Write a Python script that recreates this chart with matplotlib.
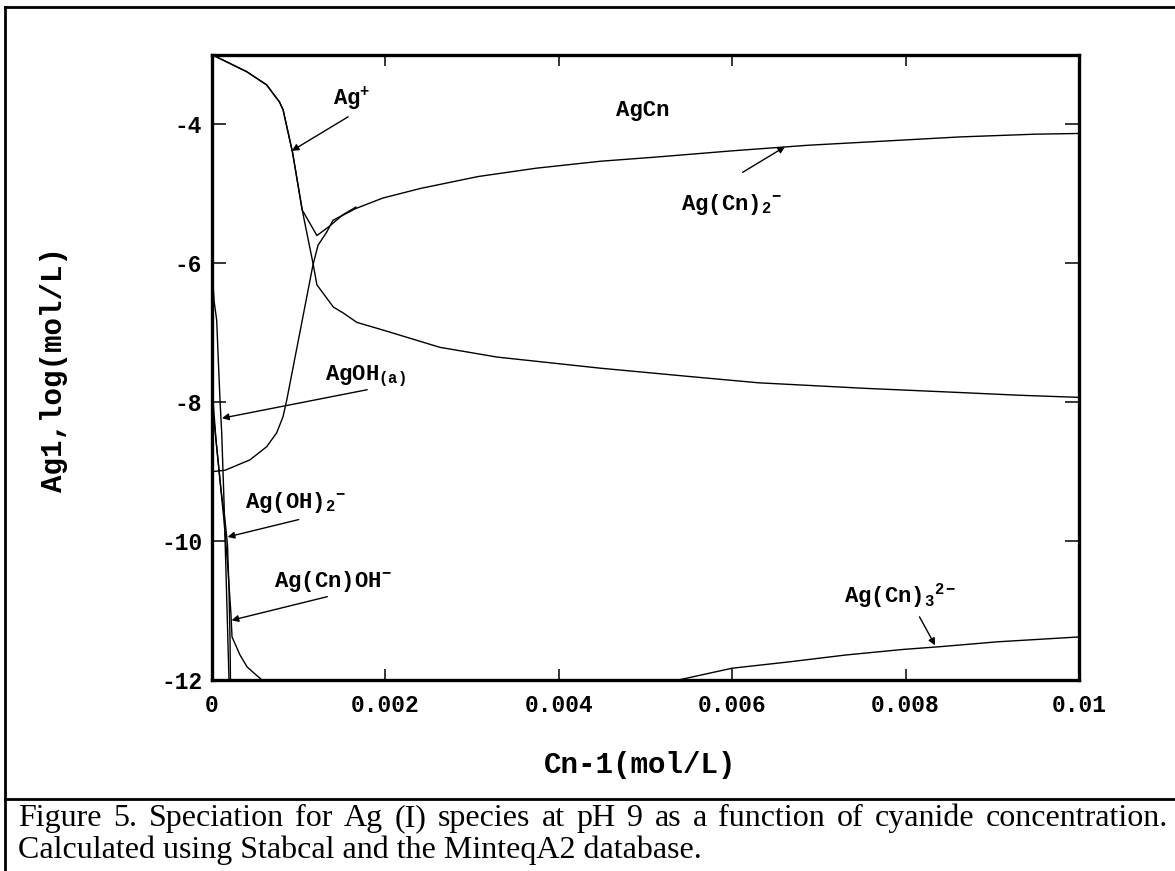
import matplotlib
matplotlib.use("Agg")
import matplotlib.pyplot as plt
from matplotlib.lines import Line2D

# =========================
# DATA (Cn in mol/L, log concentration)
# =========================

ag_plus_x = [0, 0.00004, 0.0004, 0.00063, 0.00078, 0.00082, 0.00093, 0.00104, 0.001165, 0.00121,
             0.0014, 0.00152, 0.00167, 0.00197, 0.00263, 0.00329, 0.00448, 0.00551, 0.0063,
             0.00753, 0.00862, 0.00932, 0.01]
ag_plus_y = [-3.0, -3.02, -3.24, -3.43, -3.68, -3.79, -4.41, -5.23, -6.0, -6.31,
             -6.63, -6.72, -6.85, -6.96, -7.21, -7.35, -7.51, -7.63, -7.72,
             -7.80, -7.86, -7.90, -7.93]

ag_cn2_x = [0, 0.00015, 0.000246, 0.000438, 0.000631, 0.000746, 0.000819, 0.000862, 0.001165,
            0.001223, 0.001323, 0.001396, 0.00166, 0.00197, 0.00241, 0.00307, 0.00374, 0.00448,
            0.00512, 0.006, 0.00687, 0.00775, 0.00862, 0.0095, 0.01]
ag_cn2_y = [-9.0, -8.98, -8.93, -8.83, -8.64, -8.44, -8.21, -7.97, -6.02,
            -5.74, -5.55, -5.38, -5.21, -5.06, -4.92, -4.75, -4.63, -4.53,
            -4.47, -4.38, -4.30, -4.24, -4.18, -4.14, -4.13]

# total dissolved Ag
ag_tot_x = [0, 0.00004, 0.0004, 0.00063, 0.00078, 0.00082, 0.00093, 0.00104, 0.00121, 0.00135, 0.00151, 0.00166]
ag_tot_y = [-3.0, -3.02, -3.24, -3.43, -3.68, -3.79, -4.41, -5.23, -5.60, -5.47, -5.30, -5.19]

ag_cn3_x = [0.00538, 0.006, 0.00665, 0.00731, 0.00797, 0.0084, 0.00906, 0.01]
ag_cn3_y = [-12.0, -11.83, -11.74, -11.64, -11.56, -11.52, -11.45, -11.38]

agoh_x = [0.0000115, 0.000023, 0.000054, 0.0000727, 0.0000923, 0.000112, 0.000138, 0.000167, 0.000196]
agoh_y = [-6.28, -6.53, -6.82, -7.39, -7.97, -8.44, -9.41, -10.70, -12.0]

ag_oh2_x = [0.0000115, 0.0000461, 0.0001038, 0.00015, 0.000179, 0.000196, 0.000208, 0.000213]
ag_oh2_y = [-7.97, -8.54, -9.26, -9.70, -10.06, -10.70, -11.42, -12.0]

ag_cnoh_x = [0.000023, 0.0000807, 0.000138, 0.000185, 0.000219, 0.000231, 0.000323, 0.000404,
             0.000484, 0.000577]
ag_cnoh_y = [-8.26, -8.98, -9.70, -10.42, -11.06, -11.38, -11.64, -11.81, -11.90, -12.0]

xticks = [0, 0.002, 0.004, 0.006, 0.008, 0.01]
xtick_labels = ["0", "0.002", "0.004", "0.006", "0.008", "0.01"]
yticks = [-4, -6, -8, -10, -12]
ytick_labels = ["-4", "-6", "-8", "-10", "-12"]

caption_1 = ("Figure 5. Speciation for Ag (I) species at pH 9 as a function of "
             "cyanide concentration.")
caption_2 = "Calculated using Stabcal and the MinteqA2 database."

# label text, text position, arrow tail, arrow head
labels = [
    ("Ag$^{+}$", (0.0014, -3.72), (0.00157, -3.89), (0.00092, -4.38)),
    ("AgCn", (0.00466, -3.88), None, None),
    ("Ag(Cn)$_{2}{}^{-}$", (0.00541, -5.23), (0.00612, -4.69), (0.00661, -4.32)),
    ("AgOH$_{(a)}$", (0.0013, -7.68), (0.00179, -7.82), (0.000115, -8.23)),
    ("Ag(OH)$_{2}{}^{-}$", (0.00038, -9.52), (0.001, -9.69), (0.00018, -9.94)),
    ("Ag(Cn)OH$^{-}$", (0.00071, -10.66), (0.00133, -10.80), (0.000225, -11.14)),
    ("Ag(Cn)$_{3}{}^{2-}$", (0.00729, -10.89), (0.00816, -11.09), (0.00834, -11.50)),
]

# =========================
# FIGURE
# =========================

plt.rcParams["mathtext.fontset"] = "custom"
plt.rcParams["mathtext.rm"] = "Liberation Mono:bold"
plt.rcParams["mathtext.it"] = "Liberation Mono:bold"
plt.rcParams["mathtext.bf"] = "Liberation Mono:bold"
plt.rcParams["axes.unicode_minus"] = False

W, H = 1175, 871
fig = plt.figure(figsize=(W / 100, H / 100), dpi=100)
ax = fig.add_axes([212 / W, 1 - 680 / H, (1079 - 212) / W, (680 - 55) / H])

for xs, ys in [(ag_plus_x, ag_plus_y), (ag_cn2_x, ag_cn2_y), (ag_tot_x, ag_tot_y),
               (ag_cn3_x, ag_cn3_y), (agoh_x, agoh_y), (ag_oh2_x, ag_oh2_y),
               (ag_cnoh_x, ag_cnoh_y)]:
    ax.plot(xs, ys, color="black", lw=1.0)

ax.set_xlim(0, 0.01)
ax.set_ylim(-12, -3)
ax.set_xticks(xticks)
ax.set_xticklabels(xtick_labels)
ax.set_yticks(yticks)
ax.set_yticklabels(ytick_labels)

for s in ax.spines.values():
    s.set_linewidth(2.4)

ax.tick_params(direction="in", top=True, right=True, width=1.1)
ax.tick_params(axis="x", length=8, pad=10)
ax.tick_params(axis="y", length=10, pad=7)
for t in ax.get_xticklabels() + ax.get_yticklabels():
    t.set_fontfamily("Liberation Mono")
    t.set_fontweight("bold")
    t.set_fontsize(16.5)

for text, pos, tail, head in labels:
    ax.text(pos[0], pos[1], text, fontsize=16, fontfamily="Liberation Mono",
            fontweight="bold", ha="left", va="baseline")
    if tail is not None:
        ax.annotate("", xy=head, xytext=tail,
                    arrowprops=dict(arrowstyle="-|>", lw=1.0, color="black",
                                    mutation_scale=10, shrinkA=0, shrinkB=0))

fig.text(54 / W, 1 - 370 / H, "Ag1,log(mol/L)", rotation=90, ha="center", va="center",
         fontsize=21, fontfamily="Liberation Mono", fontweight="bold")
fig.text(640 / W, 1 - 765 / H, "Cn-1(mol/L)", ha="center", va="center",
         fontsize=21, fontfamily="Liberation Mono", fontweight="bold")

# =========================
# FRAME AND CAPTION
# =========================

fig.add_artist(Line2D([5 / W, 1], [1 - 7 / H, 1 - 7 / H], color="black", lw=2))
fig.add_artist(Line2D([5 / W, 5 / W], [0, 1 - 7 / H], color="black", lw=2))
fig.add_artist(Line2D([5 / W, 1], [1 - 799 / H, 1 - 799 / H], color="black", lw=2))

r = fig.canvas.get_renderer()
probe = fig.text(0, 0, caption_2, fontsize=20, fontfamily="Liberation Serif")
cap_size = 20 * 683 / probe.get_window_extent(r).width
probe.set_fontsize(cap_size)
probe.set_position((18 / W, 1 - 858 / H))

# justify the first caption line between x=18 and x=1168
words = caption_1.split()
word_texts = [fig.text(0, 0, w, fontsize=cap_size, fontfamily="Liberation Serif") for w in words]
widths = [t.get_window_extent(r).width for t in word_texts]
gap = (1168 - 18 - sum(widths)) / (len(words) - 1)
xpos = 18
for t, w in zip(word_texts, widths):
    t.set_position((xpos / W, 1 - 826 / H))
    xpos += w + gap

fig.savefig("out.png", dpi=100)
